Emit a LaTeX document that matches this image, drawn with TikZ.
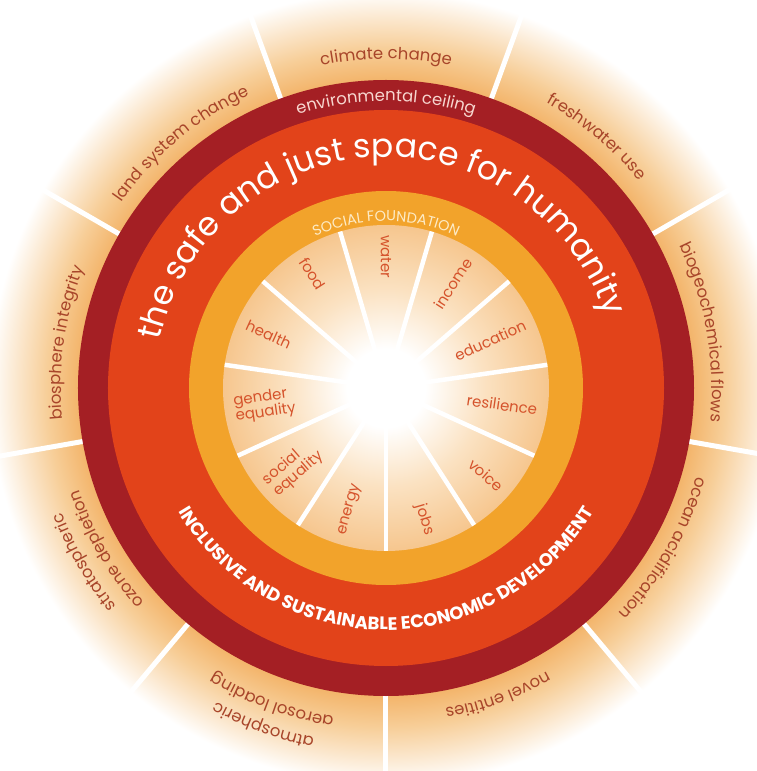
\documentclass[tikz,border=0pt]{standalone}
\usepackage{fontspec}
\setmainfont{Poppins}
\usetikzlibrary{decorations.text}

\definecolor{ceilingred}{HTML}{A41F24}
\definecolor{spacered}{HTML}{E2431A}
\definecolor{foundationorange}{HTML}{F2A32B}
\definecolor{glowdeep}{HTML}{F3B46A}
\definecolor{glowmid}{HTML}{F7CE98}
\definecolor{glowpale}{HTML}{FBE6CB}
\definecolor{hubmid}{HTML}{FBE2C2}
\definecolor{hubrim}{HTML}{F6C68E}
\definecolor{boundtext}{HTML}{A8452A}
\definecolor{needtext}{HTML}{D5532C}
\definecolor{ceilingtext}{HTML}{F7D6CF}
\definecolor{foundationtext}{HTML}{FDEBC6}

\pgfdeclareradialshading{outerglow}{\pgfpoint{0bp}{0bp}}{%
  color(0bp)=(glowdeep); color(19.2bp)=(glowdeep); color(21.2bp)=(glowmid);
  color(23bp)=(glowpale); color(24.8bp)=(white); color(50bp)=(white)}
\pgfdeclareradialshading{hubglow}{\pgfpoint{0bp}{0bp}}{%
  color(0bp)=(white); color(6bp)=(white); color(15bp)=(hubmid);
  color(25bp)=(hubrim); color(50bp)=(hubrim)}

\newcommand{\boundfont}{\fontsize{16.5}{18}\selectfont\color{boundtext}}
\newcommand{\needfont}{\fontsize{15}{15.5}\selectfont}
\newcommand{\ceilingfont}{\fontsize{16.5}{18}\selectfont\color{ceilingtext}}
\newcommand{\spacefont}{\fontsize{33}{36}\selectfont\color{white}}
\newcommand{\foundationfont}{\fontsize{14.5}{16}\selectfont\color{foundationtext}}
\newcommand{\economyfont}{\fontsize{18}{20}\selectfont\bfseries\color{white}}

\begin{document}
\begin{tikzpicture}[x=1pt, y=1pt,
  ring/.style={fill=#1, draw=none},
  spoke/.style={white, line width=#1},
  boundlabel/.style={decorate, decoration={text along path, text align=center, text={|\boundfont|#1}}},
  needlabel/.style={font=\needfont, text=needtext, inner sep=0pt, align=left}]

  \useasboundingbox (-386,-383) rectangle (371,388);
  \clip (-386,-383) rectangle (371,388);

  \shade[shading=outerglow] (0,0) circle (400);
  \foreach \a in {-90,-50,...,230}
    \draw[spoke=5pt] (\a:306) -- (\a:420);

  \fill[ring=ceilingred] (0,0) circle (308);
  \fill[ring=spacered] (0,0) circle (278);
  \fill[ring=foundationorange] (0,0) circle (197);
  \shade[shading=hubglow] (0,0) circle (163);
  \foreach \i in {0,...,10}
    \draw[spoke=4.5pt] ({-90+\i*360/11}:25) -- ({-90+\i*360/11}:163);

  % planetary boundaries
  \path[boundlabel={climate change}] (130:329) arc[start angle=130, end angle=50, radius=329];
  \path[boundlabel={freshwater use}] (90:327) arc[start angle=90, end angle=10, radius=327];
  \path[boundlabel={biogeochemical flows}] (60:326) arc[start angle=60, end angle=-40, radius=326];
  \path[boundlabel={ocean acidification}] (20:323) arc[start angle=20, end angle=-80, radius=323];
  \path[boundlabel={novel entities}] (-20:326) arc[start angle=-20, end angle=-120, radius=326];
  \path[boundlabel={atmospheric}] (-60:357) arc[start angle=-60, end angle=-160, radius=357];
  \path[boundlabel={aerosol loading}] (-60:333) arc[start angle=-60, end angle=-160, radius=333];
  \path[boundlabel={stratospheric}] (-100:347) arc[start angle=-100, end angle=-200, radius=347];
  \path[boundlabel={ozone depletion}] (-100:323) arc[start angle=-100, end angle=-200, radius=323];
  \path[boundlabel={biosphere integrity}] (222:325) arc[start angle=222, end angle=122, radius=325];
  \path[boundlabel={land system change}] (180:323) arc[start angle=180, end angle=80, radius=323];

  % ring titles
  \path[decorate, decoration={text along path, text align=center, text={|\ceilingfont|environmental ceiling}}]
    (150:287) arc[start angle=150, end angle=30, radius=287];
  \path[decorate, decoration={text along path, text align=center, text={|\spacefont|the safe and just space for humanity}}]
    (183:231) arc[start angle=183, end angle=3, radius=231];
  \path[decorate, decoration={text along path, text align=center, text={|\foundationfont|SOCIAL FOUNDATION}}]
    (150:167) arc[start angle=150, end angle=30, radius=167];
  \path[decorate, decoration={text along path, text align=center, text={|\economyfont|INCLUSIVE AND SUSTAINABLE ECONOMIC DEVELOPMENT}}]
    (-175:242) arc[start angle=-175, end angle=-5, radius=242];

  % social foundation
  \foreach \a/\txt [count=\n] in {-73.64/jobs, -40.91/voice, -8.18/resilience, 24.55/education, 57.27/income}
    \node[needlabel, anchor=east, rotate=\a] (needr\n) at (\a:153) {\txt};
  \foreach \a/\txt [count=\n] in {90/water, 122.73/food, 155.45/health, 188.18/{gender\\equality}, 220.91/{social\\equality}, 253.64/energy}
    \node[needlabel, anchor=west, rotate=\a-180] (needl\n) at (\a:153) {\txt};
\end{tikzpicture}
\end{document}
